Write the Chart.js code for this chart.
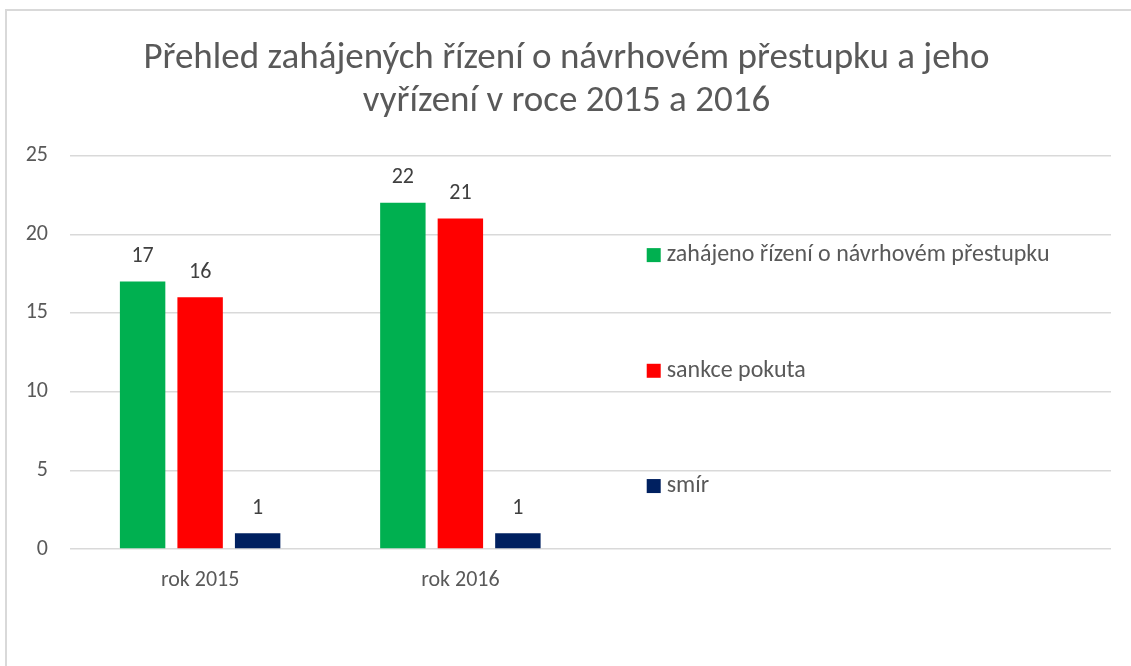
<!DOCTYPE html>
<html>
<head>
<meta charset="utf-8">
<script src="https://cdn.jsdelivr.net/npm/chart.js@4.4.0/dist/chart.umd.min.js"></script>
<style>
  html, body { margin: 0; padding: 0; background: #fff; }
  #wrap { position: relative; width: 1131px; height: 666px; overflow: hidden; }
  #frame { position: absolute; left: 5px; top: 9px; width: 1300px; height: 900px; border: 2px solid #d9d9d9; box-sizing: border-box; }
  #c { position: absolute; left: 0; top: 0; }
</style>
</head>
<body>
<div id="wrap">
  <div id="frame"></div>
  <canvas id="c" width="1131" height="666"></canvas>
</div>
<script>
// categories (two empty slots keep the bars on the left half, as in the original)
const categories = ["rok 2015", "rok 2016", "", ""];
const zahajeno = [17, 22, null, null];
const sankce = [16, 21, null, null];
const smir = [1, 1, null, null];
const seriesNames = ["zahájeno řízení o návrhovém přestupku", "sankce pokuta", "smír"];
const seriesColors = ["#00B050", "#FF0000", "#002060"];
const yTicks = [0, 5, 10, 15, 20, 25];

const FONT = "Carlito, 'Liberation Sans', Arial, sans-serif";

// value labels above bars
const valueLabels = {
  id: "valueLabels",
  afterDatasetsDraw(chart) {
    const ctx = chart.ctx;
    ctx.save();
    ctx.font = "22px " + FONT;
    ctx.fillStyle = "#404040";
    ctx.textAlign = "center";
    ctx.textBaseline = "middle";
    chart.data.datasets.forEach((ds, i) => {
      chart.getDatasetMeta(i).data.forEach((bar, j) => {
        if (ds.data[j] == null) return;
        ctx.fillText(String(ds.data[j]), bar.x, bar.y - 25);
      });
    });
    ctx.restore();
  },
};

// legend drawn inside the plot area, spread out vertically like Excel does
const sideLegend = {
  id: "sideLegend",
  afterDraw(chart) {
    const ctx = chart.ctx;
    const area = chart.chartArea;
    const x = area.left + (area.right - area.left) * 0.554;
    const rows = [0.747, 0.453, 0.16];
    ctx.save();
    ctx.font = "24px " + FONT;
    ctx.textBaseline = "middle";
    chart.data.datasets.forEach((ds, i) => {
      const y = area.top + (area.bottom - area.top) * (1 - rows[i]);
      ctx.fillStyle = ds.backgroundColor;
      ctx.fillRect(x, y - 7, 14, 14);
      ctx.fillStyle = "#595959";
      ctx.fillText(ds.label, x + 20, y);
    });
    ctx.restore();
  },
};

const datasets = [zahajeno, sankce, smir].map((vals, i) => ({
  label: seriesNames[i],
  data: vals,
  backgroundColor: seriesColors[i],
  borderWidth: 0,
  categoryPercentage: 0.663,
  barPercentage: 0.79,
}));

new Chart(document.getElementById("c"), {
  type: "bar",
  data: { labels: categories, datasets: datasets },
  options: {
    responsive: false,
    animation: false,
    layout: { padding: { left: 22, right: 20, top: 0, bottom: 0 } },
    plugins: {
      legend: { display: false },
      tooltip: { enabled: false },
      title: {
        display: true,
        text: ["Přehled zahájených řízení o návrhovém přestupku a jeho", "vyřízení v roce 2015 a 2016"],
        color: "#595959",
        font: { family: FONT, size: 37, weight: "normal", lineHeight: 1.17 },
        padding: { top: 37, bottom: 32 },
      },
    },
    scales: {
      x: {
        grid: { display: false },
        border: { display: false },
        ticks: { color: "#595959", font: { family: FONT, size: 22 }, padding: 10 },
        afterFit: (scale) => { scale.height = 666 - 549; },
      },
      y: {
        min: 0,
        max: 25,
        afterBuildTicks: (scale) => { scale.ticks = yTicks.map((v) => ({ value: v })); },
        grid: { color: "#d9d9d9", lineWidth: 1.5, drawTicks: false },
        border: { display: false },
        ticks: { color: "#595959", font: { family: FONT, size: 22 }, padding: 22 },
        afterFit: (scale) => { scale.width = 48; },
      },
    },
  },
  plugins: [valueLabels, sideLegend],
});
</script>
</body>
</html>
